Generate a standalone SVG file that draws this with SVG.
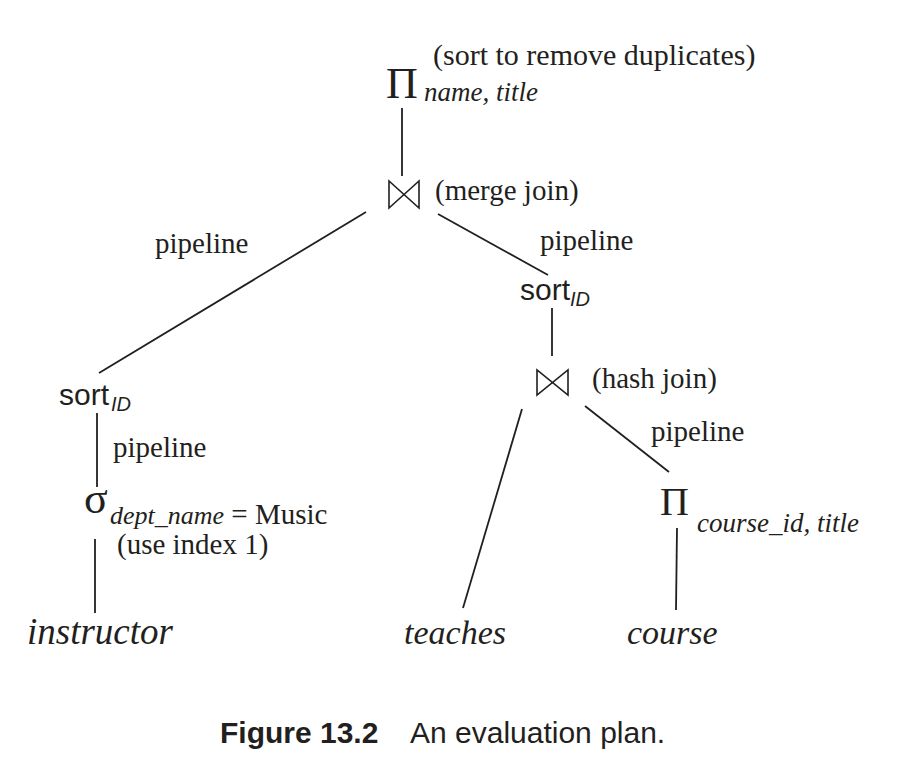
<svg xmlns="http://www.w3.org/2000/svg" width="917" height="767" viewBox="0 0 917 767">
<style>
.s{font-family:"Liberation Serif","Times New Roman",serif;fill:#231f20}
.l{font-size:29px}
.i{font-style:italic}
.sub{font-size:27px;font-style:italic}
.sans{font-family:"Liberation Sans",Arial,sans-serif;fill:#231f20}
.edge{stroke:#231f20;stroke-width:1.8;fill:none}
.bow{stroke:#231f20;stroke-width:1.6;fill:none;stroke-linejoin:miter}
</style>
<rect width="917" height="767" fill="#ffffff"/>
<g id="connectors">
<line class="edge" x1="402" y1="108" x2="402" y2="176"/>
<line class="edge" x1="366" y1="212" x2="99" y2="373"/>
<line class="edge" x1="438" y1="214" x2="548" y2="275"/>
<line class="edge" x1="552" y1="308" x2="552" y2="356"/>
<line class="edge" x1="522" y1="409" x2="463" y2="608"/>
<line class="edge" x1="585" y1="406" x2="669" y2="472"/>
<line class="edge" x1="677" y1="528" x2="676" y2="610"/>
<line class="edge" x1="97" y1="413" x2="97" y2="487"/>
<line class="edge" x1="95" y1="539" x2="95" y2="613"/>
</g>
<g id="edge-labels">
<text class="s l" x="155" y="253">pipeline</text>
<text class="s l" x="540" y="250">pipeline</text>
<text class="s l" x="651" y="441">pipeline</text>
<text class="s l" x="113" y="457">pipeline</text>
</g>
<g id="project-top">
<text class="s" x="386" y="98" font-size="44">Π</text>
<text class="s sub" x="424" y="101">name, title</text>
<text class="s" x="433" y="65" font-size="30">(sort to remove duplicates)</text>
</g>
<g id="merge-join">
<path class="bow" d="M389,181 L389,208 L419,181 L419,208 Z"/>
<text class="s l" x="435" y="200">(merge join)</text>
</g>
<g id="sort-right">
<text class="sans" x="520" y="300" font-size="30">sort</text>
<text class="sans" x="570" y="306" font-size="20" font-style="italic">ID</text>
</g>
<g id="hash-join">
<path class="bow" d="M537,370 L537,395 L568,370 L568,395 Z"/>
<text class="s l" x="592" y="388">(hash join)</text>
</g>
<g id="project-course">
<text class="s" x="660" y="515" font-size="40">Π</text>
<text class="s sub" x="697" y="532">course_id, title</text>
</g>
<g id="sort-left">
<text class="sans" x="59" y="405" font-size="30">sort</text>
<text class="sans" x="111" y="411" font-size="20" font-style="italic">ID</text>
</g>
<g id="select">
<text class="s" x="84" y="513" font-size="44">σ</text>
<text class="s" x="110" y="524" font-size="26"><tspan font-style="italic">dept_name</tspan><tspan font-size="29"> = Music</tspan></text>
<text class="s l" x="117" y="554">(use index 1)</text>
</g>
<g id="instructor">
<text class="s i" x="27" y="644" font-size="37">instructor</text>
</g>
<g id="teaches">
<text class="s i" x="404" y="644" font-size="34">teaches</text>
</g>
<g id="course">
<text class="s i" x="627" y="644" font-size="34">course</text>
</g>
<g id="caption">
<text class="sans" x="220" y="743" font-size="30" font-weight="bold">Figure 13.2</text>
<text class="sans" x="410" y="743" font-size="30">An evaluation plan.</text>
</g>
</svg>
